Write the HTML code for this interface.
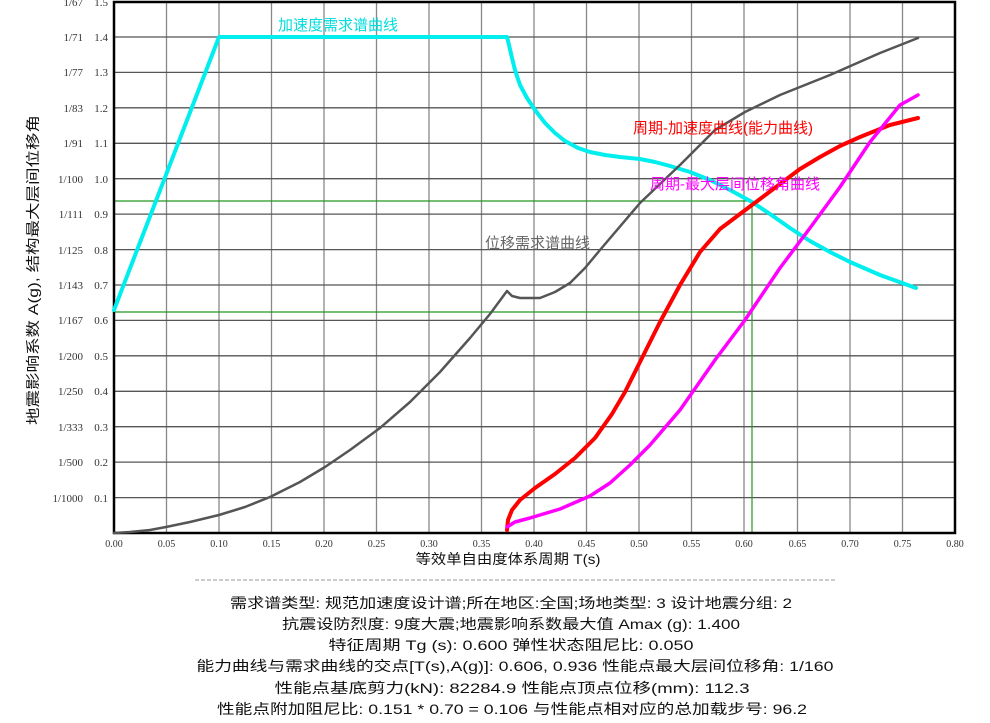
<!DOCTYPE html>
<html><head><meta charset="utf-8"><style>
body{margin:0;background:#fff;}
svg{display:block;}
.t{font-family:"Liberation Serif","Noto Serif CJK SC",serif;font-size:11px;fill:#333;}
.c{font-family:"Liberation Sans","Noto Sans CJK SC",sans-serif;font-size:14px;fill:#111;white-space:pre;}
</style></head><body>
<svg width="990" height="723" viewBox="0 0 990 723" xmlns="http://www.w3.org/2000/svg" xml:space="preserve">
<rect width="990" height="723" fill="#fff"/>
<g stroke="#888" stroke-width="1.3">
<line x1="166.5" y1="2" x2="166.5" y2="533"/><line x1="219" y1="2" x2="219" y2="533"/><line x1="271.5" y1="2" x2="271.5" y2="533"/><line x1="324" y1="2" x2="324" y2="533"/><line x1="376.5" y1="2" x2="376.5" y2="533"/><line x1="429" y1="2" x2="429" y2="533"/><line x1="481.5" y1="2" x2="481.5" y2="533"/><line x1="534" y1="2" x2="534" y2="533"/><line x1="586.5" y1="2" x2="586.5" y2="533"/><line x1="639" y1="2" x2="639" y2="533"/><line x1="691.5" y1="2" x2="691.5" y2="533"/><line x1="744" y1="2" x2="744" y2="533"/><line x1="797.5" y1="2" x2="797.5" y2="533"/><line x1="850" y1="2" x2="850" y2="533"/><line x1="902.5" y1="2" x2="902.5" y2="533"/>
</g>
<g stroke="#555" stroke-width="1.3">
<line x1="114" y1="497.6" x2="955" y2="497.6"/><line x1="114" y1="462.1" x2="955" y2="462.1"/><line x1="114" y1="426.7" x2="955" y2="426.7"/><line x1="114" y1="391.3" x2="955" y2="391.3"/><line x1="114" y1="355.8" x2="955" y2="355.8"/><line x1="114" y1="320.4" x2="955" y2="320.4"/><line x1="114" y1="285" x2="955" y2="285"/><line x1="114" y1="249.6" x2="955" y2="249.6"/><line x1="114" y1="214.1" x2="955" y2="214.1"/><line x1="114" y1="178.7" x2="955" y2="178.7"/><line x1="114" y1="143.3" x2="955" y2="143.3"/><line x1="114" y1="107.8" x2="955" y2="107.8"/><line x1="114" y1="72.4" x2="955" y2="72.4"/><line x1="114" y1="37" x2="955" y2="37"/>
</g>
<g stroke="#229922" stroke-width="1.2" fill="none">
<line x1="114" y1="201" x2="752" y2="201"/><line x1="114" y1="312" x2="752" y2="312"/><line x1="752" y1="201" x2="752" y2="533"/>
</g>
<rect x="114" y="2" width="841" height="531" fill="none" stroke="#000" stroke-width="2.5"/>
<g fill="none" stroke-linejoin="round" stroke-linecap="round">
<polyline stroke="#00eeee" stroke-width="4" points="114,310 219,37 507,37 509,45 512,58 515,70 520,85 527,98 535,110 545,123 555,133 565,141 578,148 590,152 605,155 620,157 640,159 655,162 670,166 690,172 710,180 730,190 752,202 770,214 790,228 810,241 830,252 850,262 880,275 916,288"/>
<polyline stroke="#555" stroke-width="2.5" points="114,533 130,532 150,530 166,527 190,522 219,515 245,507 270,497 300,482 325,467 350,450 380,428 410,402 440,372 470,338 490,314 507,291 512,296 520,298 540,298 555,292 570,283 585,268 600,250 640,203 680,165 715,130 745,112 780,95 830,75 880,53 918,38"/>
<polyline stroke="#ff0000" stroke-width="4" points="507,530 508,520 512,510 520,500 535,488 555,474 575,458 595,438 612,414 625,392 640,362 660,322 680,285 700,252 720,229 740,214 760,199 780,184 800,169 820,157 840,146 860,137 890,125 918,118"/>
<polyline stroke="#ff00ff" stroke-width="3.5" points="507,527 515,522 530,518 560,509 590,496 610,483 630,465 650,445 680,410 715,360 745,320 780,268 810,228 840,187 870,142 900,105 918,95"/>
</g>
<g class="c" style="font-size:15px">
<text x="278" y="30" style="fill:#00dddd">加速度需求谱曲线</text>
<text x="633" y="133" style="fill:#ff0000">周期-加速度曲线(能力曲线)</text>
<text x="650" y="189" style="fill:#ff00ff">周期-最大层间位移角曲线</text>
<text x="485" y="248" style="fill:#666">位移需求谱曲线</text>
</g>
<g class="t" text-anchor="end">
<text x="108" y="6">1.5</text><text x="83" y="6">1/67</text>
<text x="108" y="41">1.4</text><text x="83" y="41">1/71</text>
<text x="108" y="76">1.3</text><text x="83" y="76">1/77</text>
<text x="108" y="112">1.2</text><text x="83" y="112">1/83</text>
<text x="108" y="147">1.1</text><text x="83" y="147">1/91</text>
<text x="108" y="183">1.0</text><text x="83" y="183">1/100</text>
<text x="108" y="218">0.9</text><text x="83" y="218">1/111</text>
<text x="108" y="254">0.8</text><text x="83" y="254">1/125</text>
<text x="108" y="289">0.7</text><text x="83" y="289">1/143</text>
<text x="108" y="324">0.6</text><text x="83" y="324">1/167</text>
<text x="108" y="360">0.5</text><text x="83" y="360">1/200</text>
<text x="108" y="395">0.4</text><text x="83" y="395">1/250</text>
<text x="108" y="431">0.3</text><text x="83" y="431">1/333</text>
<text x="108" y="466">0.2</text><text x="83" y="466">1/500</text>
<text x="108" y="502">0.1</text><text x="83" y="502">1/1000</text>
</g>
<g class="t" text-anchor="middle" style="font-size:10px">
<text x="114" y="547">0.00</text><text x="166.5" y="547">0.05</text><text x="219" y="547">0.10</text><text x="271.5" y="547">0.15</text><text x="324" y="547">0.20</text><text x="376.5" y="547">0.25</text><text x="429" y="547">0.30</text><text x="481.5" y="547">0.35</text><text x="534" y="547">0.40</text><text x="586.5" y="547">0.45</text><text x="639" y="547">0.50</text><text x="691.5" y="547">0.55</text><text x="744" y="547">0.60</text><text x="797.5" y="547">0.65</text><text x="850" y="547">0.70</text><text x="902.5" y="547">0.75</text><text x="955" y="547">0.80</text>
</g>
<text class="c" x="0" y="0" transform="translate(38,270) rotate(-90)" text-anchor="middle" textLength="310" lengthAdjust="spacingAndGlyphs">地震影响系数 A(g), 结构最大层间位移角</text>
<text class="c" x="508" y="564" text-anchor="middle" textLength="185" lengthAdjust="spacingAndGlyphs">等效单自由度体系周期 T(s)</text>
<line x1="195" y1="580" x2="835" y2="580" stroke="#bbb" stroke-width="1.5" stroke-dasharray="4,2"/>
<g class="c" text-anchor="middle">
<text x="511" y="608" textLength="562" lengthAdjust="spacingAndGlyphs">需求谱类型: 规范加速度设计谱;所在地区:全国;场地类型: 3 设计地震分组: 2</text>
<text x="511" y="629" textLength="458" lengthAdjust="spacingAndGlyphs">抗震设防烈度:  9度大震;地震影响系数最大值 Amax (g): 1.400</text>
<text x="511" y="650" textLength="365" lengthAdjust="spacingAndGlyphs">特征周期 Tg (s): 0.600 弹性状态阻尼比: 0.050</text>
<text x="515" y="671" textLength="637" lengthAdjust="spacingAndGlyphs">能力曲线与需求曲线的交点[T(s),A(g)]: 0.606, 0.936   性能点最大层间位移角: 1/160</text>
<text x="512" y="693" textLength="475" lengthAdjust="spacingAndGlyphs">性能点基底剪力(kN):   82284.9   性能点顶点位移(mm):   112.3</text>
<text x="512" y="714" textLength="590" lengthAdjust="spacingAndGlyphs">性能点附加阻尼比: 0.151 * 0.70 = 0.106 与性能点相对应的总加载步号:   96.2</text>
</g>
</svg>
</body></html>
